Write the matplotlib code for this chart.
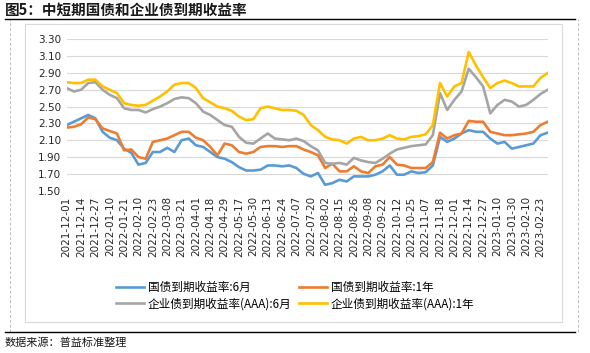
import numpy as np
import matplotlib
matplotlib.use('Agg')
import matplotlib.pyplot as plt
from matplotlib.lines import Line2D
from matplotlib.patches import Rectangle

plt.rcParams['font.family'] = ['Noto Sans CJK SC', 'DejaVu Sans']

# 横轴刻度标签 (每隔约9个交易日)
tick_labels = ['2021-12-01', '2021-12-14', '2021-12-27', '2022-01-10', '2022-01-21',
               '2022-02-10', '2022-02-23', '2022-03-08', '2022-03-21', '2022-04-01',
               '2022-04-18', '2022-04-29', '2022-05-17', '2022-05-30', '2022-06-13',
               '2022-06-24', '2022-07-07', '2022-07-20', '2022-08-02', '2022-08-15',
               '2022-08-26', '2022-09-08', '2022-09-22', '2022-10-12', '2022-10-25',
               '2022-11-07', '2022-11-18', '2022-12-01', '2022-12-14', '2022-12-27',
               '2023-01-10', '2023-01-30', '2023-02-10', '2023-02-23']

# 数据取样: 每半个刻度间隔一个点
gov_6m = [2.28, 2.32, 2.36, 2.40, 2.36, 2.20, 2.13, 2.10, 2.00, 1.95,
          1.81, 1.83, 1.96, 1.96, 2.01, 1.96, 2.10, 2.12, 2.04, 2.02,
          1.96, 1.90, 1.88, 1.84, 1.78, 1.74, 1.74, 1.75, 1.80, 1.80,
          1.79, 1.80, 1.77, 1.70, 1.67, 1.71, 1.57, 1.59, 1.63, 1.61,
          1.67, 1.67, 1.67, 1.69, 1.73, 1.80, 1.69, 1.69, 1.73, 1.71,
          1.72, 1.80, 2.14, 2.08, 2.12, 2.18, 2.22, 2.20, 2.20, 2.12,
          2.06, 2.08, 2.00, 2.02, 2.04, 2.06, 2.16, 2.19]
gov_1y = [2.25, 2.26, 2.29, 2.37, 2.35, 2.24, 2.21, 2.18, 1.98, 1.99,
          1.90, 1.88, 2.08, 2.10, 2.12, 2.16, 2.20, 2.20, 2.13, 2.10,
          2.02, 1.92, 2.06, 2.04, 1.96, 1.94, 1.96, 2.02, 2.03, 2.03,
          2.02, 2.03, 2.03, 1.99, 1.96, 1.92, 1.77, 1.82, 1.73, 1.73,
          1.79, 1.73, 1.71, 1.79, 1.81, 1.90, 1.81, 1.80, 1.77, 1.77,
          1.77, 1.84, 2.19, 2.12, 2.16, 2.18, 2.33, 2.32, 2.32, 2.20,
          2.18, 2.16, 2.16, 2.17, 2.18, 2.20, 2.28, 2.32]
corp_6m = [2.72, 2.68, 2.70, 2.78, 2.79, 2.70, 2.64, 2.60, 2.48, 2.46,
           2.46, 2.43, 2.47, 2.50, 2.54, 2.59, 2.61, 2.60, 2.54, 2.44,
           2.40, 2.34, 2.28, 2.26, 2.14, 2.07, 2.06, 2.12, 2.18, 2.12,
           2.11, 2.10, 2.12, 2.09, 2.03, 1.98, 1.83, 1.82, 1.83, 1.81,
           1.89, 1.86, 1.84, 1.83, 1.88, 1.94, 1.99, 2.01, 2.03, 2.04,
           2.05, 2.16, 2.66, 2.46, 2.58, 2.68, 2.95, 2.85, 2.74, 2.42,
           2.52, 2.58, 2.56, 2.50, 2.52, 2.58, 2.65, 2.70]
corp_1y = [2.79, 2.78, 2.78, 2.82, 2.82, 2.74, 2.70, 2.66, 2.54, 2.52,
           2.51, 2.52, 2.57, 2.62, 2.68, 2.76, 2.78, 2.78, 2.72, 2.60,
           2.55, 2.50, 2.48, 2.45, 2.38, 2.34, 2.35, 2.48, 2.50, 2.48,
           2.46, 2.46, 2.45, 2.40, 2.28, 2.22, 2.14, 2.11, 2.10, 2.06,
           2.12, 2.14, 2.10, 2.10, 2.12, 2.16, 2.12, 2.11, 2.14, 2.15,
           2.17, 2.28, 2.78, 2.62, 2.74, 2.78, 3.15, 2.99, 2.85, 2.72,
           2.78, 2.81, 2.78, 2.74, 2.74, 2.74, 2.84, 2.90]

series = [
    (gov_6m, '国债到期收益率:6月', '#5B9BD5'),
    (gov_1y, '国债到期收益率:1年', '#ED7D31'),
    (corp_6m, '企业债到期收益率(AAA):6月', '#A5A5A5'),
    (corp_1y, '企业债到期收益率(AAA):1年', '#FFC000'),
]

x = np.arange(len(gov_6m)) / 2.0

fig = plt.figure(figsize=(5.9, 3.53), dpi=100)

# 外框与分隔线
fig.add_artist(Rectangle((25 / 590, 1 - 322 / 353), 537 / 590, 298 / 353,
                         transform=fig.transFigure, fill=False,
                         edgecolor='#D9D9D9', linewidth=0.8))
for xv in [10 / 590, 578 / 590]:
    fig.add_artist(Line2D([xv, xv], [1 - 332 / 353, 1 - 19 / 353],
                          transform=fig.transFigure, color='#BFBFBF',
                          linewidth=0.7, linestyle=(0, (3, 2))))
for yv in [1 - 18.5 / 353, 1 - 332 / 353]:
    fig.add_artist(Line2D([0.008, 0.975], [yv, yv], transform=fig.transFigure,
                          color='black', linewidth=1.0))

fig.text(5 / 590, 1 - 10 / 353, '图5：中短期国债和企业债到期收益率', fontsize=10.5,
         fontweight='bold', color='#1A1A1A', va='center', ha='left')
fig.text(5 / 590, 1 - 343 / 353, '数据来源：普益标准整理', fontsize=8,
         color='#1A1A1A', va='center', ha='left')

ax = fig.add_axes([66.7 / 590, 1 - 190.7 / 353, 481 / 590, 151.4 / 353])
lines = []
for vals, name, col in series:
    ln, = ax.plot(x, vals, color=col, linewidth=1.9, label=name, solid_joinstyle='round')
    lines.append(ln)

ax.set_xlim(0, x[-1])
ax.set_ylim(1.50, 3.30)
ax.set_yticks(np.arange(1.50, 3.31, 0.20))
ax.set_yticklabels(['%.2f' % v for v in np.arange(1.50, 3.31, 0.20)],
                   fontsize=7.5, family='DejaVu Sans', color='#262626')
ax.set_xticks(np.arange(len(tick_labels)))
ax.set_xticklabels(tick_labels, rotation=90, fontsize=7.5, family='DejaVu Sans',
                   color='#262626')
ax.tick_params(length=0, pad=4)
ax.grid(axis='y', color='#D9D9D9', linewidth=0.8)
ax.set_axisbelow(True)
for s in ax.spines.values():
    s.set_visible(False)

# 图例按行排列: 第一行国债, 第二行企业债
order = [0, 2, 1, 3]
ax.legend([lines[k] for k in order], [series[k][1] for k in order],
          loc='upper left', bbox_to_anchor=(110 / 590, 1 - 275 / 353),
          bbox_transform=fig.transFigure, ncol=2, frameon=False, fontsize=8.4,
          handlelength=2.4, handletextpad=0.35, columnspacing=0.6,
          labelspacing=0.3, borderpad=0)

fig.savefig('out.png', dpi=100)
